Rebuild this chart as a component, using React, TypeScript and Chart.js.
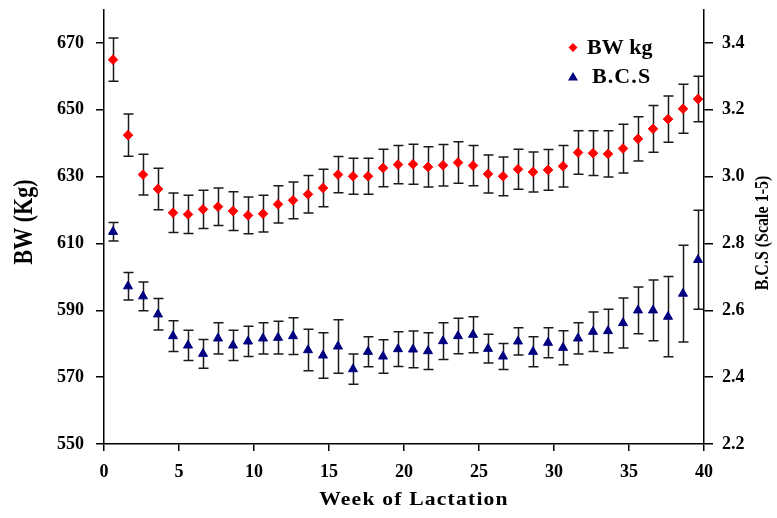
import React, { useEffect, useRef } from 'react';
import { Chart, registerables } from 'chart.js';

Chart.register(...registerables);

// ---- data ----
const weeks = [
  0.6, 1.6, 2.6, 3.6, 4.6, 5.6, 6.6, 7.6, 8.6, 9.6,
  10.6, 11.6, 12.6, 13.6, 14.6, 15.6, 16.6, 17.6, 18.6, 19.6,
  20.6, 21.6, 22.6, 23.6, 24.6, 25.6, 26.6, 27.6, 28.6, 29.6,
  30.6, 31.6, 32.6, 33.6, 34.6, 35.6, 36.6, 37.6, 38.6, 39.6,
];
const bwMean = [
  665.0, 642.4, 630.6, 626.3, 619.2, 618.7, 620.2, 621.0, 619.7, 618.4,
  618.9, 621.7, 622.9, 624.7, 626.6, 630.6, 630.1, 630.1, 632.6, 633.6,
  633.7, 632.9, 633.4, 634.2, 633.3, 630.8, 630.1, 632.2, 631.4, 632.0,
  633.1, 637.2, 637.0, 636.8, 638.4, 641.3, 644.3, 647.2, 650.3, 653.2,
];
const bwErr = [
  6.5, 6.3, 6.1, 6.2, 5.9, 5.7, 5.7, 5.6, 5.8, 5.5,
  5.5, 5.6, 5.5, 5.6, 5.6, 5.4, 5.4, 5.4, 5.6, 5.7,
  6.0, 6.0, 6.2, 6.2, 6.0, 5.7, 5.8, 6.0, 6.0, 6.1,
  6.2, 6.5, 6.7, 6.9, 7.3, 6.6, 7.0, 6.9, 7.3, 6.8,
];
const bcsMean = [
  2.835, 2.672, 2.642, 2.588, 2.523, 2.495, 2.470, 2.516, 2.495, 2.507,
  2.516, 2.518, 2.523, 2.481, 2.465, 2.492, 2.424, 2.476, 2.462, 2.484,
  2.483, 2.478, 2.508, 2.523, 2.527, 2.485, 2.462, 2.507, 2.476, 2.503,
  2.488, 2.516, 2.536, 2.538, 2.562, 2.600, 2.600, 2.581, 2.650, 2.751,
];
const bcsErr = [
  0.028, 0.041, 0.043, 0.047, 0.046, 0.045, 0.043, 0.047, 0.045, 0.045,
  0.047, 0.049, 0.055, 0.062, 0.068, 0.080, 0.045, 0.045, 0.050, 0.052,
  0.055, 0.055, 0.055, 0.053, 0.054, 0.043, 0.039, 0.041, 0.045, 0.045,
  0.051, 0.047, 0.059, 0.065, 0.075, 0.070, 0.091, 0.120, 0.145, 0.148,
];
const bwTicks = [550, 570, 590, 610, 630, 650, 670];
const bcsTicks = [2.2, 2.4, 2.6, 2.8, 3.0, 3.2, 3.4];
const weekTicks = [0, 5, 10, 15, 20, 25, 30, 35, 40];
const seriesNames = ['BW kg', 'B.C.S'];
const xTitle = 'Week of Lactation';
const yLeftTitle = 'BW (Kg)';
const yRightTitle = 'B.C.S (Scale 1-5)';

const SERIF = "'Liberation Serif', 'Times New Roman', serif";
const RED = '#ff0000';
const NAVY = '#000080';

const errorBarPlugin = {
  id: 'errorBars',
  beforeDatasetsDraw(chart: any) {
    const ctx = chart.ctx;
    chart.data.datasets.forEach((ds: any, di: number) => {
      const meta = chart.getDatasetMeta(di);
      const yScale = chart.scales[meta.yAxisID];
      const errs: number[] = ds.errors;
      ctx.save();
      ctx.strokeStyle = '#1a1a1a';
      ctx.lineWidth = 1.5;
      meta.data.forEach((pt: any, i: number) => {
        const v = ds.data[i].y;
        const e = errs[i];
        const x = Math.round(pt.x) + 0.5;
        const yt = yScale.getPixelForValue(v + e);
        const yb = yScale.getPixelForValue(v - e);
        ctx.beginPath();
        ctx.moveTo(x, yt);
        ctx.lineTo(x, yb);
        ctx.moveTo(x - 5, yt);
        ctx.lineTo(x + 5, yt);
        ctx.moveTo(x - 5, yb);
        ctx.lineTo(x + 5, yb);
        ctx.stroke();
      });
      ctx.restore();
    });
  },
};

const textPlugin = {
  id: 'textDeco',
  afterDraw(chart: any) {
    const ctx = chart.ctx;
    ctx.save();
    ctx.fillStyle = '#000';

    // left title
    ctx.save();
    ctx.translate(25, 222);
    ctx.rotate(-Math.PI / 2);
    ctx.scale(1, 1.2);
    ctx.font = `bold 22px ${SERIF}`;
    ctx.textAlign = 'center';
    ctx.textBaseline = 'middle';
    ctx.fillText(yLeftTitle, 0, 0);
    ctx.restore();

    // right title
    ctx.save();
    ctx.translate(763, 233);
    ctx.rotate(-Math.PI / 2);
    ctx.scale(1, 1.2);
    ctx.font = `bold 16px ${SERIF}`;
    ctx.textAlign = 'center';
    ctx.textBaseline = 'middle';
    ctx.fillText(yRightTitle, 0, 0);
    ctx.restore();

    // x title
    ctx.save();
    ctx.translate(414, 500);
    ctx.scale(1.2, 1);
    ctx.font = `bold 18px ${SERIF}`;
    (ctx as any).letterSpacing = '1px';
    ctx.textAlign = 'center';
    ctx.textBaseline = 'middle';
    ctx.fillText(xTitle, 0, 0);
    ctx.restore();

    // legend
    const lx = 573;
    const ly1 = 47.5;
    const ly2 = 77;
    ctx.fillStyle = RED;
    ctx.beginPath();
    ctx.moveTo(lx - 4.5, ly1);
    ctx.lineTo(lx, ly1 - 4.5);
    ctx.lineTo(lx + 4.5, ly1);
    ctx.lineTo(lx, ly1 + 4.5);
    ctx.closePath();
    ctx.fill();
    ctx.fillStyle = NAVY;
    ctx.beginPath();
    ctx.moveTo(lx, ly2 - 5);
    ctx.lineTo(lx + 5, ly2 + 3.5);
    ctx.lineTo(lx - 5, ly2 + 3.5);
    ctx.closePath();
    ctx.fill();

    ctx.fillStyle = '#000';
    ctx.font = `bold 20px ${SERIF}`;
    ctx.textAlign = 'left';
    ctx.textBaseline = 'middle';
    ctx.save();
    ctx.translate(587, ly1 + 1);
    ctx.scale(1.1, 1);
    ctx.fillText(seriesNames[0], 0, 0);
    ctx.restore();
    ctx.save();
    ctx.translate(592, ly2 + 1);
    ctx.scale(1.1, 1);
    (ctx as any).letterSpacing = '1px';
    ctx.fillText(seriesNames[1], 0, 0);
    ctx.restore();

    ctx.restore();
  },
};

export default function App() {
  const ref = useRef<HTMLCanvasElement | null>(null);

  useEffect(() => {
    if (!ref.current) return;
    const tickFont = { family: SERIF, size: 18, weight: 'bold' as const };
    const chart = new Chart(ref.current, {
      type: 'scatter',
      data: {
        datasets: [
          {
            label: seriesNames[0],
            data: weeks.map((w, i) => ({ x: w, y: bwMean[i] })),
            errors: bwErr,
            yAxisID: 'y',
            pointStyle: 'rectRot',
            pointRadius: 4.8,
            backgroundColor: RED,
            borderColor: RED,
            borderWidth: 1,
            showLine: false,
          } as any,
          {
            label: seriesNames[1],
            data: weeks.map((w, i) => ({ x: w, y: bcsMean[i] })),
            errors: bcsErr,
            yAxisID: 'y1',
            pointStyle: 'triangle',
            pointRadius: 5.2,
            backgroundColor: NAVY,
            borderColor: NAVY,
            borderWidth: 1,
            showLine: false,
          } as any,
        ],
      },
      options: {
        responsive: false,
        animation: false,
        devicePixelRatio: 1,
        layout: { padding: { top: 0, left: 0, right: 0, bottom: 0 } },
        plugins: {
          legend: { display: false },
          tooltip: { enabled: false },
          title: { display: false },
        },
        scales: {
          x: {
            type: 'linear',
            position: 'bottom',
            min: 0,
            max: 40,
            afterBuildTicks: (s: any) => {
              s.ticks = weekTicks.map((v) => ({ value: v }));
            },
            afterFit: (s: any) => {
              s.height = 74;
            },
            ticks: { font: tickFont, color: '#000', padding: 11, maxRotation: 0 },
            grid: { drawOnChartArea: false, drawTicks: true, tickLength: 7, color: '#000', lineWidth: 1.5 },
            border: { display: true, color: '#000', width: 1.5 },
          },
          y: {
            type: 'linear',
            position: 'left',
            min: 550,
            max: 680,
            afterBuildTicks: (s: any) => {
              s.ticks = bwTicks.map((v) => ({ value: v }));
            },
            afterFit: (s: any) => {
              s.width = 104;
              s.paddingTop = 9.5;
              s.paddingBottom = 0;
            },
            ticks: { font: tickFont, color: '#000', padding: 12 },
            grid: { drawOnChartArea: false, drawTicks: true, tickLength: 8, color: '#000', lineWidth: 1.5 },
            border: { display: true, color: '#000', width: 1.5 },
          },
          y1: {
            type: 'linear',
            position: 'right',
            min: 2.2,
            max: 3.5,
            afterBuildTicks: (s: any) => {
              s.ticks = bcsTicks.map((v) => ({ value: v }));
            },
            afterFit: (s: any) => {
              s.width = 73;
              s.paddingTop = 9.5;
              s.paddingBottom = 0;
            },
            ticks: {
              font: tickFont,
              color: '#000',
              padding: 9,
              callback: (v: any) => Number(v).toFixed(1),
            },
            grid: { drawOnChartArea: false, drawTicks: true, tickLength: 9, color: '#000', lineWidth: 1.5 },
            border: { display: true, color: '#000', width: 1.5 },
          },
        },
      } as any,
      plugins: [errorBarPlugin, textPlugin],
    });
    return () => chart.destroy();
  }, []);

  return (
    <div style={{ position: 'fixed', left: 0, top: 0, width: 777, height: 518, background: '#fff' }}>
      <canvas ref={ref} width={777} height={518} style={{ display: 'block', width: 777, height: 518 }} />
    </div>
  );
}
